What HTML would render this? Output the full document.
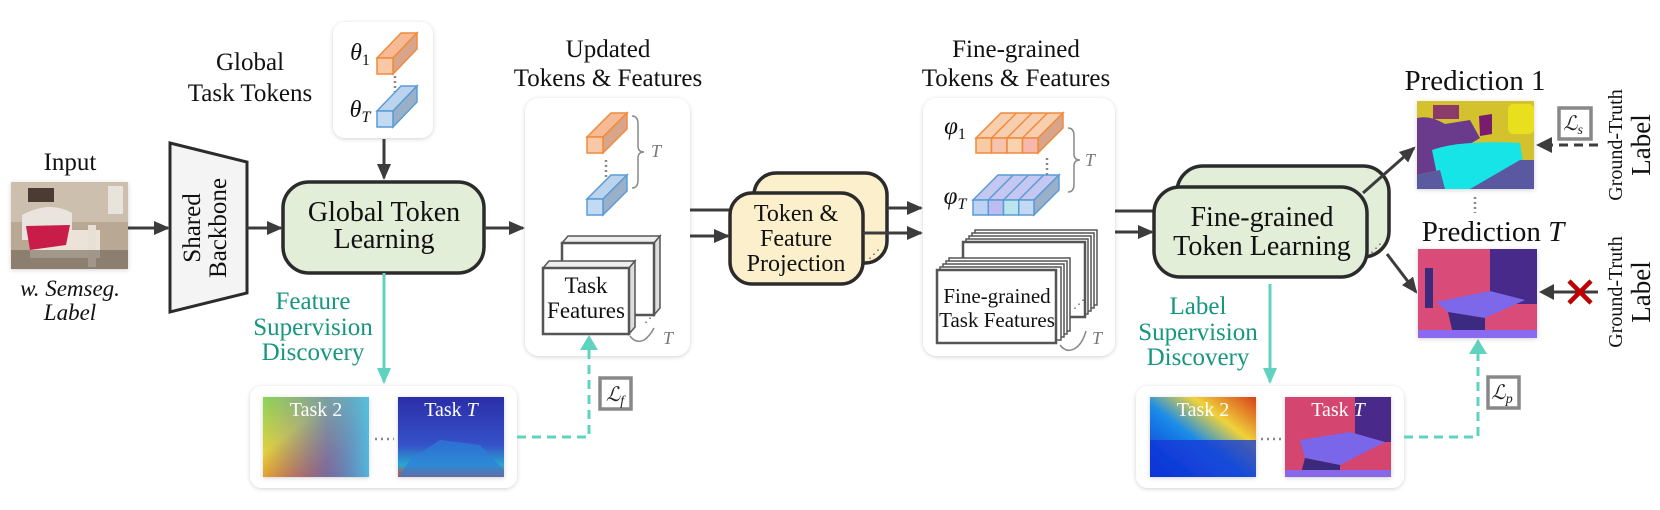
<!DOCTYPE html>
<html><head><meta charset="utf-8"><style>
html,body{margin:0;padding:0;background:#fff;}
svg{display:block;}
svg text{font-family:"Liberation Serif","DejaVu Serif",serif;}
</style></head><body>
<svg width="1660" height="510" viewBox="0 0 1660 510" xmlns="http://www.w3.org/2000/svg" font-family="Liberation Serif, serif">
<defs>
<marker id="ahb" markerWidth="16" markerHeight="16" refX="14" refY="8" orient="auto" markerUnits="userSpaceOnUse" viewBox="0 0 16 16">
<path d="M0,1 L16,8 L0,15 z" fill="#3c3c3c"/></marker>
<marker id="aht" markerWidth="16" markerHeight="16" refX="14" refY="8" orient="auto" markerUnits="userSpaceOnUse" viewBox="0 0 16 16">
<path d="M0,1 L16,8 L0,15 z" fill="#5fd3bf"/></marker>
<filter id="sh" x="-10%" y="-10%" width="120%" height="120%"><feDropShadow dx="0" dy="1" stdDeviation="2" flood-color="#000" flood-opacity="0.18"/></filter>
<linearGradient id="h2a" x1="0" y1="0" x2="1" y2="1"><stop offset="0" stop-color="#8bd35a"/><stop offset="0.35" stop-color="#e3d33a"/><stop offset="0.7" stop-color="#e8632a"/><stop offset="1" stop-color="#c8281c"/></linearGradient>
<linearGradient id="h2b" x1="0" y1="0" x2="1" y2="0"><stop offset="0" stop-color="#3b6fe0" stop-opacity="0"/><stop offset="0.6" stop-color="#3a7ae6" stop-opacity="0.6"/><stop offset="1" stop-color="#45c6f0" stop-opacity="0.9"/></linearGradient>
<linearGradient id="hTa" x1="0" y1="0" x2="0" y2="1"><stop offset="0" stop-color="#2b2ea8"/><stop offset="0.6" stop-color="#3552c9"/><stop offset="0.85" stop-color="#2aa6d0"/><stop offset="1" stop-color="#e0422a"/></linearGradient>
<linearGradient id="r2" x1="0" y1="1" x2="1" y2="0"><stop offset="0" stop-color="#0b2cd8"/><stop offset="0.45" stop-color="#1b8ce8"/><stop offset="0.7" stop-color="#f0d23a"/><stop offset="1" stop-color="#d8401a"/></linearGradient>
</defs>

<!-- Input -->
<text x="70" y="170" font-size="25" text-anchor="middle" fill="#111">Input</text>
<g filter="url(#sh)">
<rect x="11" y="182" width="117" height="87" fill="#b9a893"/>
<rect x="11" y="182" width="117" height="40" fill="#cdbfae"/>
<rect x="28" y="188" width="26" height="14" fill="#4b3b30"/>
<rect x="108" y="186" width="15" height="28" fill="#e8e4dc"/>
<path d="M22,215 Q50,200 72,213 L72,240 L22,240z" fill="#e9e4de"/>
<rect x="30" y="230" width="70" height="28" fill="#ece3d8"/>
<path d="M26,226 L70,225 L66,245 L30,250z" fill="#c81a48"/>
<rect x="88" y="225" width="8" height="42" fill="#e8e0d4"/>
<rect x="11" y="250" width="117" height="19" fill="#6f6457" opacity="0.6"/>
</g>
<text x="70" y="296" font-size="23" font-style="italic" text-anchor="middle" fill="#111">w. Semseg.</text>
<text x="70" y="320" font-size="23" font-style="italic" text-anchor="middle" fill="#111">Label</text>

<!-- backbone -->
<polygon points="170,143 247,162 247,293 170,312" fill="#f4f4f4" stroke="#2b2b2b" stroke-width="3"/>
<text transform="translate(200,228) rotate(-90)" font-size="25" text-anchor="middle" fill="#111">Shared</text>
<text transform="translate(226,228) rotate(-90)" font-size="25" text-anchor="middle" fill="#111">Backbone</text>
<line x1="128" y1="228" x2="168" y2="228" stroke="#3c3c3c" stroke-width="3" marker-end="url(#ahb)"/>
<line x1="247" y1="228" x2="281" y2="228" stroke="#3c3c3c" stroke-width="3" marker-end="url(#ahb)"/>

<!-- Global task tokens -->
<text x="250" y="70" font-size="25" text-anchor="middle" fill="#111">Global</text>
<text x="250" y="101" font-size="25" text-anchor="middle" fill="#111">Task Tokens</text>
<rect x="333" y="22" width="100" height="116" rx="12" fill="#fff" filter="url(#sh)"/>
<text x="360" y="60" font-size="24" font-style="italic" text-anchor="middle" fill="#111">θ<tspan font-size="16" font-style="normal" dy="5">1</tspan></text>
<text x="360" y="117" font-size="24" font-style="italic" text-anchor="middle" fill="#111">θ<tspan font-size="16" dy="5">T</tspan></text>
<g stroke="#f08a3c" stroke-width="1.5">
<polygon points="377,58 401,33 417,33 393,58" fill="#f6bb94"/>
<polygon points="393,58 417,33 417,49 393,74" fill="#d9a58a"/>
<rect x="377" y="58" width="16" height="16" fill="#f8c9a4"/></g>
<line x1="395" y1="76" x2="395" y2="92" stroke="#888" stroke-width="2.5" stroke-dasharray="2,3"/>
<g stroke="#5b9bd5" stroke-width="1.5">
<polygon points="377,111 401,86 417,86 393,111" fill="#bcd3ee"/>
<polygon points="393,111 417,86 417,102 393,127" fill="#9ab0c9"/>
<rect x="377" y="111" width="16" height="16" fill="#c3daf3"/></g>
<line x1="384" y1="139" x2="384" y2="178" stroke="#3c3c3c" stroke-width="3" marker-end="url(#ahb)"/>

<!-- GTL -->
<rect x="283" y="182" width="201" height="91" rx="26" fill="#e2eed8" stroke="#2b2b2b" stroke-width="3.5"/>
<text x="384" y="221" font-size="28" text-anchor="middle" fill="#111">Global Token</text>
<text x="384" y="248" font-size="28" text-anchor="middle" fill="#111">Learning</text>
<line x1="484" y1="228" x2="523" y2="228" stroke="#3c3c3c" stroke-width="3" marker-end="url(#ahb)"/>

<!-- feature supervision -->
<line x1="384" y1="273" x2="384" y2="382" stroke="#5fd3bf" stroke-width="3" marker-end="url(#aht)"/>
<g font-size="25" fill="#17967f" text-anchor="middle">
<text x="313" y="309">Feature</text><text x="313" y="335">Supervision</text><text x="313" y="360">Discovery</text></g>
<rect x="250" y="386" width="267" height="102" rx="12" fill="#fff" filter="url(#sh)"/>
<g filter="url(#sh)">
<rect x="263" y="397" width="106" height="80" fill="url(#h2a)"/>
<rect x="263" y="397" width="106" height="80" fill="url(#h2b)"/>
<rect x="398" y="397" width="106" height="80" fill="url(#hTa)"/>
<path d="M410,460 L440,440 L480,445 L504,470 L504,477 L398,477z" fill="#2d7fd8" opacity="0.7"/>
</g>
<text x="316" y="416" font-size="20" text-anchor="middle" fill="#fff">Task 2</text>
<text x="451" y="416" font-size="20" text-anchor="middle" fill="#fff">Task <tspan font-style="italic">T</tspan></text>
<line x1="375" y1="439" x2="394" y2="439" stroke="#888" stroke-width="2.5" stroke-dasharray="2,4"/>

<!-- Updated box -->
<text x="608" y="57" font-size="25" text-anchor="middle" fill="#111">Updated</text>
<text x="608" y="86" font-size="25" text-anchor="middle" fill="#111">Tokens &amp; Features</text>
<rect x="525" y="98" width="165" height="258" rx="14" fill="#fff" filter="url(#sh)"/>
<g stroke="#f08a3c" stroke-width="1.5">
<polygon points="587,137 611,113 627,113 603,137" fill="#f6bb94"/>
<polygon points="603,137 627,113 627,129 603,153" fill="#d9a58a"/>
<rect x="587" y="137" width="16" height="16" fill="#f8c9a4"/></g>
<line x1="606" y1="160" x2="606" y2="177" stroke="#888" stroke-width="2.5" stroke-dasharray="2,3"/>
<g stroke="#5b9bd5" stroke-width="1.5">
<polygon points="587,199 611,175 627,175 603,199" fill="#bcd3ee"/>
<polygon points="603,199 627,175 627,191 603,215" fill="#9ab0c9"/>
<rect x="587" y="199" width="16" height="16" fill="#c3daf3"/></g>
<path d="M632,116 q6,0 6,8 v22 q0,6 6,6 q-6,0 -6,6 v22 q0,8 -6,8" fill="none" stroke="#888" stroke-width="1.5"/>
<text x="656" y="157" font-size="18" font-style="italic" fill="#777" text-anchor="middle">T</text>
<g stroke="#555" stroke-width="1.5">
<polygon points="562,243 568,236 660,236 654,243" fill="#eee"/>
<polygon points="654,243 660,236 660,308 654,315" fill="#ddd"/>
<rect x="562" y="243" width="92" height="72" fill="#fff" stroke="#555" stroke-width="2.5"/>
<polygon points="543,268 549,261 635,261 629,268" fill="#eee"/>
<polygon points="629,268 635,261 635,327 629,334" fill="#ddd"/>
<rect x="543" y="268" width="86" height="66" fill="#fff" stroke="#555" stroke-width="2.5"/></g>
<text x="586" y="293" font-size="23" text-anchor="middle" fill="#111">Task</text>
<text x="586" y="318" font-size="23" text-anchor="middle" fill="#111">Features</text>
<text x="644" y="322" font-size="12" fill="#555">⋰</text>
<path d="M630,336 q6,8 14,4 q6,-4 10,-12" fill="none" stroke="#888" stroke-width="1.5"/>
<text x="668" y="344" font-size="18" font-style="italic" fill="#777" text-anchor="middle">T</text>

<!-- Lf connector (drawn after box) -->
<polyline points="517,437 589,437 589,346" fill="none" stroke="#5fd3bf" stroke-width="3" stroke-dasharray="9,6"/>
<polygon points="580,350 589,335 598,350" fill="#5fd3bf"/>
<rect x="600" y="378" width="31" height="31" fill="#fff" stroke="#888" stroke-width="3.5"/>
<text x="615" y="401" font-size="20" font-style="italic" text-anchor="middle" fill="#222">ℒ<tspan font-size="14" dy="4">f</tspan></text>

<!-- token & feature projection -->
<line x1="690" y1="210" x2="752" y2="210" stroke="#3c3c3c" stroke-width="3"/>
<line x1="690" y1="236" x2="728" y2="236" stroke="#3c3c3c" stroke-width="3" marker-end="url(#ahb)"/>
<rect x="754" y="173" width="133" height="90" rx="22" fill="#fcefcc" stroke="#2b2b2b" stroke-width="3.5"/>
<rect x="730" y="193" width="133" height="91" rx="22" fill="#fcefcc" stroke="#2b2b2b" stroke-width="3.5"/>
<g font-size="24" text-anchor="middle" fill="#111"><text x="796" y="221">Token &amp;</text><text x="796" y="246">Feature</text><text x="796" y="271">Projection</text></g>
<text x="868" y="258" font-size="12" fill="#555">⋰</text>
<line x1="887" y1="208" x2="921" y2="208" stroke="#3c3c3c" stroke-width="3" marker-end="url(#ahb)"/>
<line x1="863" y1="233" x2="921" y2="233" stroke="#3c3c3c" stroke-width="3" marker-end="url(#ahb)"/>

<!-- Fine-grained box -->
<text x="1016" y="57" font-size="25" text-anchor="middle" fill="#111">Fine-grained</text>
<text x="1016" y="86" font-size="25" text-anchor="middle" fill="#111">Tokens &amp; Features</text>
<rect x="923" y="98" width="192" height="258" rx="14" fill="#fff" filter="url(#sh)"/>
<text x="955" y="134" font-size="25" font-style="italic" text-anchor="middle" fill="#111">φ<tspan font-size="16" font-style="normal" dy="5">1</tspan></text>
<text x="955" y="204" font-size="25" font-style="italic" text-anchor="middle" fill="#111">φ<tspan font-size="16" dy="5">T</tspan></text>
<g stroke="#f08a3c" stroke-width="1.5">
<polygon points="976,138 1001,113 1063,113 1038,138" fill="#f8cfae"/>
<polygon points="1038,138 1063,113 1063,128 1038,153" fill="#d9a58a"/>
<rect x="976" y="138" width="15.5" height="15" fill="#f8cba4"/><rect x="991.5" y="138" width="15.5" height="15" fill="#f6c4ae"/><rect x="1007" y="138" width="15.5" height="15" fill="#f8d3ae"/><rect x="1022.5" y="138" width="15.5" height="15" fill="#f6b8ac"/>
<line x1="991.5" y1="138" x2="1016.5" y2="113"/><line x1="1007" y1="138" x2="1032" y2="113"/><line x1="1022.5" y1="138" x2="1047.5" y2="113"/></g>
<line x1="1047" y1="158" x2="1047" y2="176" stroke="#888" stroke-width="2.5" stroke-dasharray="2,3"/>
<g stroke="#5b9bd5" stroke-width="1.5">
<polygon points="973,200 998,175 1059,175 1034,200" fill="#c4c8f0"/>
<polygon points="1034,200 1059,175 1059,190 1034,215" fill="#9ab0c9"/>
<rect x="973" y="200" width="15.25" height="15" fill="#bcd3f3"/><rect x="988.25" y="200" width="15.25" height="15" fill="#bdbcf0"/><rect x="1003.5" y="200" width="15.25" height="15" fill="#b8e6ec"/><rect x="1018.75" y="200" width="15.25" height="15" fill="#c3d8f3"/>
<line x1="988.25" y1="200" x2="1013.25" y2="175"/><line x1="1003.5" y1="200" x2="1028.5" y2="175"/><line x1="1018.75" y1="200" x2="1043.75" y2="175"/></g>
<path d="M1068,128 q6,0 6,8 v18 q0,6 6,6 q-6,0 -6,6 v18 q0,8 -6,8" fill="none" stroke="#888" stroke-width="1.5"/>
<text x="1090" y="166" font-size="18" font-style="italic" fill="#777" text-anchor="middle">T</text>
<g fill="#fff" stroke="#555" stroke-width="1.5">
<rect x="975" y="230" width="122" height="75"/><rect x="972" y="233" width="122" height="75"/><rect x="969" y="236" width="122" height="75"/><rect x="966" y="239" width="122" height="75"/>
<rect x="963" y="242" width="122" height="75" stroke-width="2.5"/>
<rect x="949" y="258" width="121" height="73"/><rect x="946" y="261" width="121" height="73"/><rect x="943" y="264" width="121" height="73"/><rect x="940" y="267" width="121" height="73"/>
<rect x="937" y="270" width="119" height="73" stroke-width="2.5"/></g>
<text x="997" y="303" font-size="21" text-anchor="middle" fill="#111">Fine-grained</text>
<text x="997" y="327" font-size="21" text-anchor="middle" fill="#111">Task Features</text>
<text x="1073" y="308" font-size="12" fill="#555">⋰</text>
<path d="M1060,345 q6,8 14,4 q8,-4 12,-18" fill="none" stroke="#888" stroke-width="1.5"/>
<text x="1097" y="344" font-size="18" font-style="italic" fill="#777" text-anchor="middle">T</text>

<!-- FTL -->
<line x1="1115" y1="211" x2="1175" y2="211" stroke="#3c3c3c" stroke-width="3"/>
<line x1="1115" y1="232" x2="1152" y2="232" stroke="#3c3c3c" stroke-width="3" marker-end="url(#ahb)"/>
<rect x="1177" y="166" width="212" height="91" rx="26" fill="#e2eed8" stroke="#2b2b2b" stroke-width="3.5"/>
<rect x="1154" y="187" width="213" height="90" rx="26" fill="#e2eed8" stroke="#2b2b2b" stroke-width="3.5"/>
<text x="1262" y="226" font-size="28" text-anchor="middle" fill="#111">Fine-grained</text>
<text x="1262" y="255" font-size="28" text-anchor="middle" fill="#111">Token Learning</text>
<text x="1370" y="252" font-size="12" fill="#555">⋰</text>
<line x1="1363" y1="193" x2="1414" y2="148" stroke="#3c3c3c" stroke-width="3" marker-end="url(#ahb)"/>
<line x1="1387" y1="254" x2="1416" y2="292" stroke="#3c3c3c" stroke-width="3" marker-end="url(#ahb)"/>

<!-- label supervision -->
<line x1="1270" y1="284" x2="1270" y2="382" stroke="#5fd3bf" stroke-width="3" marker-end="url(#aht)"/>
<g font-size="25" fill="#17967f" text-anchor="middle">
<text x="1198" y="314">Label</text><text x="1198" y="340">Supervision</text><text x="1198" y="365">Discovery</text></g>
<rect x="1136" y="386" width="268" height="102" rx="12" fill="#fff" filter="url(#sh)"/>
<g filter="url(#sh)">
<rect x="1150" y="397" width="106" height="80" fill="url(#r2)"/>
<rect x="1150" y="440" width="106" height="37" fill="#1236d6" opacity="0.75"/>
<rect x="1285" y="397" width="106" height="80" fill="#d4456f"/>
<rect x="1355" y="397" width="36" height="45" fill="#4a2a8a"/>
<polygon points="1300,440 1350,432 1385,442 1340,465 1305,458" fill="#7a66e8"/>
<polygon points="1305,458 1340,465 1340,477 1300,477" fill="#3a2a7a"/>
<rect x="1285" y="470" width="106" height="7" fill="#8868e8"/>
</g>
<text x="1203" y="416" font-size="20" text-anchor="middle" fill="#fff">Task 2</text>
<text x="1338" y="416" font-size="20" text-anchor="middle" fill="#fff">Task <tspan font-style="italic">T</tspan></text>
<line x1="1261" y1="439" x2="1281" y2="439" stroke="#888" stroke-width="2.5" stroke-dasharray="2,4"/>
<polyline points="1404,437 1478,437 1478,350" fill="none" stroke="#5fd3bf" stroke-width="3" stroke-dasharray="9,6"/>
<polygon points="1469,354 1478,339 1487,354" fill="#5fd3bf"/>
<rect x="1488" y="377" width="31" height="31" fill="#fff" stroke="#888" stroke-width="3.5"/>
<text x="1502" y="399" font-size="20" font-style="italic" text-anchor="middle" fill="#222">ℒ<tspan font-size="14" dy="4">p</tspan></text>

<!-- predictions -->
<text x="1475" y="90" font-size="29" text-anchor="middle" fill="#111">Prediction 1</text>
<g filter="url(#sh)">
<rect x="1417" y="101" width="117" height="88" fill="#d4c12e"/>
<rect x="1508" y="104" width="26" height="30" rx="5" fill="#e8e01c"/>
<rect x="1433" y="105" width="26" height="14" fill="#8a3a6a"/>
<path d="M1417,118 Q1430,115 1445,124 L1470,120 L1480,138 L1460,150 L1440,170 L1417,175z" fill="#6a3a8c"/>
<path d="M1479,116 L1492,114 L1492,134 L1480,136z" fill="#7a1a6e"/>
<path d="M1432,150 Q1460,140 1520,143 L1525,175 L1470,189 L1440,189z" fill="#18e4e6"/>
<path d="M1417,175 L1440,170 L1445,189 L1417,189z" fill="#5a5aa0"/>
<path d="M1520,160 L1534,160 L1534,189 L1470,189z" fill="#5a58a0"/>
</g>
<line x1="1475" y1="197" x2="1475" y2="213" stroke="#888" stroke-width="2.5" stroke-dasharray="2,3"/>
<text x="1493" y="241" font-size="29" text-anchor="middle" fill="#111">Prediction <tspan font-style="italic">T</tspan></text>
<g filter="url(#sh)">
<rect x="1418" y="249" width="119" height="89" fill="#d94c78"/>
<rect x="1490" y="249" width="47" height="55" fill="#472a8a"/>
<rect x="1425" y="268" width="8" height="40" fill="#3d2a7a"/>
<polygon points="1436,302 1490,291 1525,300 1485,318 1448,312" fill="#7d68ea"/>
<polygon points="1448,312 1485,318 1485,336 1452,330" fill="#3a2c80"/>
<rect x="1418" y="330" width="119" height="8" fill="#8a6af0"/>
</g>

<rect x="1559" y="108" width="32" height="31" fill="#fff" stroke="#888" stroke-width="3.5"/>
<text x="1573" y="130" font-size="20" font-style="italic" text-anchor="middle" fill="#222">ℒ<tspan font-size="14" dy="4">s</tspan></text>
<line x1="1598" y1="145" x2="1538" y2="145" stroke="#3c3c3c" stroke-width="3" stroke-dasharray="9,6"/>
<polygon points="1552,137 1536,145 1552,153" fill="#3c3c3c"/>
<line x1="1598" y1="292" x2="1542" y2="292" stroke="#3c3c3c" stroke-width="3"/>
<polygon points="1554,284 1539,292 1554,300" fill="#3c3c3c"/>
<g stroke="#c00000" stroke-width="4.5"><line x1="1569" y1="281" x2="1591" y2="303"/><line x1="1591" y1="281" x2="1569" y2="303"/></g>
<text transform="translate(1622,145) rotate(-90)" font-size="20" text-anchor="middle" fill="#111">Ground-Truth</text>
<text transform="translate(1650,145) rotate(-90)" font-size="27" text-anchor="middle" fill="#111">Label</text>
<text transform="translate(1622,292) rotate(-90)" font-size="20" text-anchor="middle" fill="#111">Ground-Truth</text>
<text transform="translate(1650,292) rotate(-90)" font-size="27" text-anchor="middle" fill="#111">Label</text>
</svg>
</body></html>
